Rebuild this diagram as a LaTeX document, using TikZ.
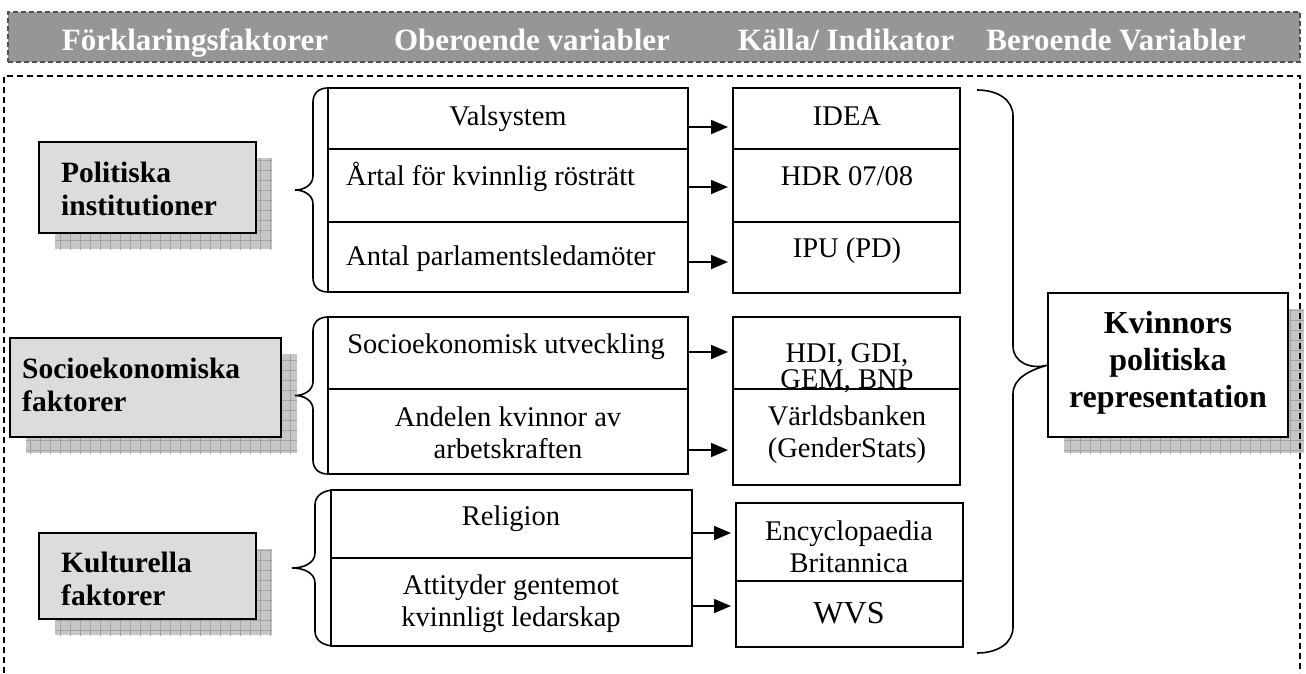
\documentclass[tikz,border=0pt]{standalone}
\usepackage{fontspec}
\setmainfont{Liberation Serif}
\usetikzlibrary{arrows.meta,backgrounds,calc}
\definecolor{hdrgray}{HTML}{969696}
\definecolor{hdrline}{HTML}{505050}
\definecolor{boxgray}{HTML}{DCDCDC}
\definecolor{shadowgray}{HTML}{C6C6C6}
\definecolor{gridgray}{HTML}{A2A2A2}
\begin{document}
\begin{tikzpicture}[x=1pt,y=-1pt,
  cellbox/.style={draw=black, line width=1.4pt, inner sep=0pt, outer sep=0pt},
  factbox/.style={draw=black, line width=2pt, fill=boxgray, inner sep=0pt, outer sep=0pt},
  bodytxt/.style={font=\fontsize{28.5}{32}\selectfont, inner sep=0pt, anchor=base},
  leftbody/.style={bodytxt, anchor=base west},
  bodytwo/.style={bodytxt, align=center},
  facttxt/.style={font=\fontsize{29.5}{33}\selectfont\bfseries, inner sep=0pt, anchor=base west, align=left},
  hdrtxt/.style={font=\fontsize{31}{34}\selectfont\bfseries, text=white, inner sep=0pt, anchor=base},
  arr/.style={line width=1.8pt, -{Triangle[length=17pt,width=14pt]}, shorten >=5pt},
  bracepath/.style={line width=1.6pt},
]
\useasboundingbox (0,0) rectangle (1306,673);

% header band
\node[draw=hdrline, line width=2pt, dash pattern=on 5pt off 3pt, fill=hdrgray,
      minimum width=1292pt, minimum height=50pt, inner sep=0pt] (hdr) at (654,37) {};
\node[hdrtxt] (h1) at (195,50) {Förklaringsfaktorer};
\node[hdrtxt] (h2) at (532,50) {Oberoende variabler};
\node[hdrtxt] (h3) at (846,50) {Källa/ Indikator};
\node[hdrtxt] (h4) at (1116,50) {Beroende Variabler};

% content border
\draw[line width=1.3pt, dash pattern=on 6pt off 4pt] (4,673) -- (4,76) -- (1300,76) -- (1300,673);

% factor boxes
\node[factbox, minimum width=217pt, minimum height=91pt] (pol) at (147.5,187.5) {};
\node[factbox, minimum width=271pt, minimum height=99pt] (soc) at (145.5,387.5) {};
\node[factbox, minimum width=217pt, minimum height=86pt] (kult) at (147.5,576) {};
\node[factbox, fill=white, minimum width=240pt, minimum height=144pt] (kvin) at (1168,365) {};

\begin{scope}[on background layer]
\foreach \n in {pol,soc,kult,kvin}{
  \begin{scope}
    \clip ($(\n.north west)+(16,16)$) rectangle ($(\n.south east)+(16,16)$);
    \fill[shadowgray] ($(\n.north west)+(16,16)$) rectangle ($(\n.south east)+(16,16)$);
    \draw[gridgray, line width=0.6pt, step=10pt] ($(\n.north west)+(16,16)$) grid ($(\n.south east)+(26,26)$);
  \end{scope}
}
\end{scope}

\node[facttxt] (tpol) at (61,215) {Politiska\\institutioner};
\node[facttxt] (tsoc) at (22,411) {Socioekonomiska\\faktorer};
\node[facttxt] (tkult) at (61,605) {Kulturella\\faktorer};
\node[font=\fontsize{32}{37}\selectfont\bfseries, inner sep=0pt, anchor=base, align=center] (tkvin) at (1168,407) {Kvinnors\\politiska\\representation};

% left tables
\node[cellbox, minimum width=360pt, minimum height=61pt] (v1) at (508,118.5) {};
\node[cellbox, minimum width=360pt, minimum height=73pt] (v2) at (508,185.5) {};
\node[cellbox, minimum width=360pt, minimum height=70pt] (v3) at (508,257) {};
\node[cellbox, minimum width=360pt, minimum height=72pt] (v4) at (508,353) {};
\node[cellbox, minimum width=360pt, minimum height=85pt] (v5) at (508,431.5) {};
\node[cellbox, minimum width=361pt, minimum height=68pt] (v6) at (511.5,524) {};
\node[cellbox, minimum width=361pt, minimum height=88pt] (v7) at (511.5,602) {};

% right tables
\node[cellbox, minimum width=227pt, minimum height=61pt] (s1) at (846.5,118.5) {};
\node[cellbox, minimum width=227pt, minimum height=73pt] (s2) at (846.5,185.5) {};
\node[cellbox, minimum width=227pt, minimum height=71pt] (s3) at (846.5,257.5) {};
\node[cellbox, minimum width=227pt, minimum height=72pt] (s4) at (846.5,353) {};
\node[cellbox, minimum width=227pt, minimum height=96pt] (s5) at (846.5,437) {};
\node[cellbox, minimum width=227pt, minimum height=78pt] (s6) at (849.5,542) {};
\node[cellbox, minimum width=227pt, minimum height=66pt] (s7) at (849.5,614) {};

% texts in left tables
\node[bodytxt] (tv1) at (508,125) {Valsystem};
\node[leftbody] (tv2) at (346,185) {Årtal för kvinnlig rösträtt};
\node[leftbody] (tv3) at (346,265) {Antal parlamentsledamöter};
\node[bodytxt] (tv4) at (506,353) {Socioekonomisk utveckling};
\node[bodytwo] (tv5) at (508,458) {Andelen kvinnor av\\arbetskraften};
\node[bodytxt] (tv6) at (511,525) {Religion};
\node[bodytwo] (tv7) at (511,626) {Attityder gentemot\\kvinnligt ledarskap};

% texts in right tables
\node[bodytxt] (ts1) at (847,125) {IDEA};
\node[bodytxt] (ts2) at (847,185) {HDR 07/08};
\node[bodytxt] (ts3) at (847,257) {IPU (PD)};
\node[bodytwo, font=\fontsize{28.5}{26}\selectfont] (ts4) at (847,388) {HDI, GDI,\\GEM, BNP};
\node[bodytwo] (ts5) at (847,457) {Världsbanken\\(GenderStats)};
\node[bodytwo] (ts6) at (849,572) {Encyclopaedia\\Britannica};
\node[bodytxt, font=\fontsize{32}{34}\selectfont] (ts7) at (849,623) {WVS};

% arrows
\coordinate (a1) at ([yshift=-8.5pt]v1.east);
\coordinate (a2) at ([yshift=-1.5pt]v2.east);
\coordinate (a3) at ([yshift=-5pt]v3.east);
\coordinate (a4) at ([yshift=1pt]v4.east);
\coordinate (a5) at ([yshift=-18.5pt]v5.east);
\coordinate (a6) at ([yshift=-9pt]v6.east);
\coordinate (a7) at ([yshift=-4pt]v7.east);
\draw[arr] (a1) -- (a1 -| s1.west);
\draw[arr] (a2) -- (a2 -| s2.west);
\draw[arr] (a3) -- (a3 -| s3.west);
\draw[arr] (a4) -- (a4 -| s4.west);
\draw[arr] (a5) -- (a5 -| s5.west);
\draw[arr] (a6) -- (a6 -| s6.west);
\draw[arr] (a7) -- (a7 -| s7.west);

% braces
\draw[bracepath] (328,88) .. controls (319,88) and (313,93) .. (313,102) -- (313,176)
  .. controls (313,185) and (304,190) .. (295,190)
  .. controls (304,190) and (313,195) .. (313,204) -- (313,278)
  .. controls (313,287) and (319,292) .. (328,292);
\draw[bracepath] (328,317) .. controls (319,317) and (313,322) .. (313,331) -- (313,381.5)
  .. controls (313,390.5) and (304,395.5) .. (295,395.5)
  .. controls (304,395.5) and (313,400.5) .. (313,409.5) -- (313,460)
  .. controls (313,469) and (319,474) .. (328,474);
\draw[bracepath] (335,490) .. controls (324,490) and (315,495) .. (315,505) -- (315,553)
  .. controls (315,563) and (304,568) .. (292,568)
  .. controls (304,568) and (315,573) .. (315,583) -- (315,631)
  .. controls (315,641) and (324,646) .. (335,646);
\draw[bracepath] (977,90) .. controls (998,90) and (1013,100) .. (1013,116) -- (1013,346)
  .. controls (1013,362) and (1030,370) .. (kvin.west)
  .. controls (1030,370) and (1013,378) .. (1013,394) -- (1013,627)
  .. controls (1013,643) and (998,653) .. (977,653);
\end{tikzpicture}
\end{document}
